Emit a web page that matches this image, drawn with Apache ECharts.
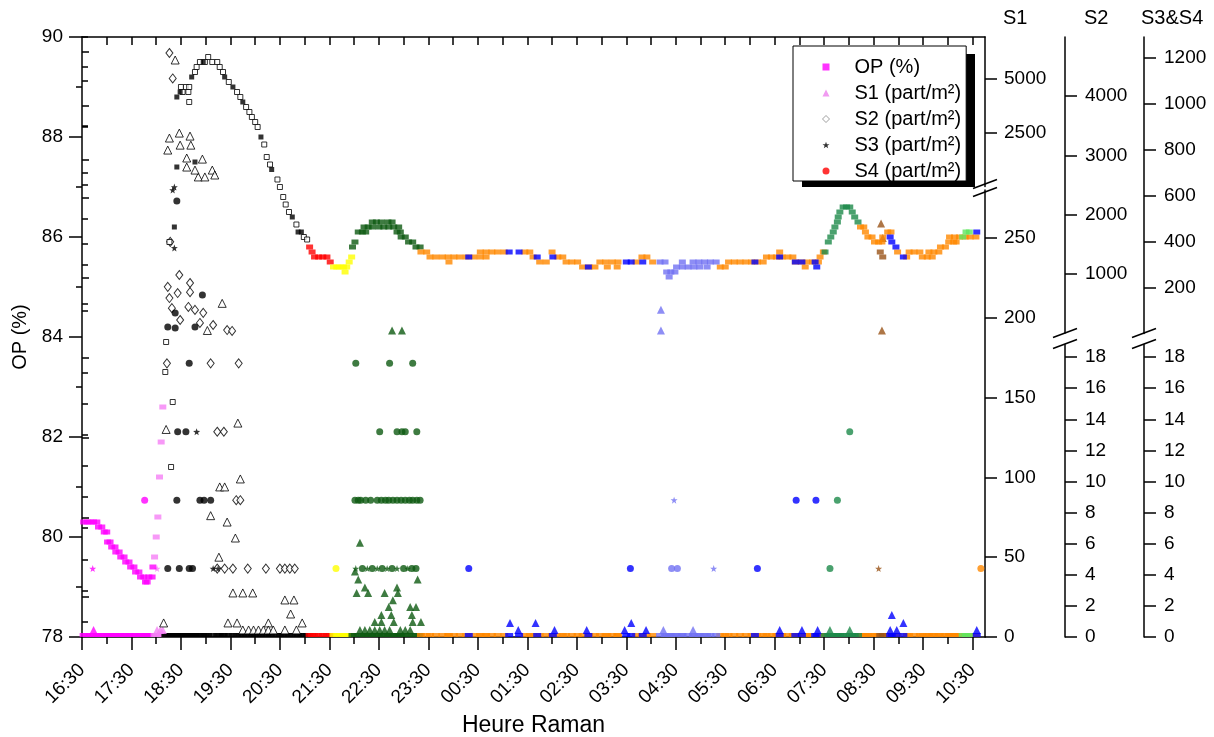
<!DOCTYPE html>
<html><head><meta charset="utf-8">
<script src="https://cdn.jsdelivr.net/npm/echarts@6/dist/echarts.min.js"></script>
<style>html,body{margin:0;padding:0;background:#fff}#c{width:1214px;height:737px}</style>
</head><body><div id="c"></div>
<script>
// ---------- tick labels ----------
const hourLabels = ['16:30','17:30','18:30','19:30','20:30','21:30','22:30','23:30','00:30','01:30','02:30','03:30','04:30','05:30','06:30','07:30','08:30','09:30','10:30'];
const opMajor = [78,80,82,84,86,88,90];
const opMinor = [79,81,83,85,87,89];
const s1LowerMajor = [0,50,100,150,200,250];
const s1LowerMinor = [25,75,125,175,225,275];
const s1UpperMajor = [2500,5000];
const s1UpperMinor = [1250,3750,6250];
const sLowerMajor = [0,2,4,6,8,10,12,14,16,18];
const sLowerMinor = [1,3,5,7,9,11,13,15,17];
const s2UpperMajor = [1000,2000,3000,4000];
const s2UpperMinor = [500,1500,2500,3500,4500,5000];
const s34UpperMajor = [200,400,600,800,1000,1200];
const s34UpperMinor = [100,300,500,700,900,1100,1290];

// ---------- data: [minutes after 16:30, value] ----------
const opMagenta = [[2,80.3],[6,80.3],[10,80.3],[14,80.3],[18,80.3],[20,80.2],[24,80.2],[27,80.1],[30,80.1],[31,79.9],[34,79.9],[36,79.8],[40,79.8],[41,79.7],[45,79.7],[47,79.6],[51,79.6],[53,79.5],[57,79.5],[59,79.4],[63,79.4],[65,79.3],[69,79.3],[71,79.2],[75,79.2],[77,79.1],[79,79.1],[81,79.2],[85,79.2],[86,79.4]];
const opPink = [[88,79.6],[90,80.0],[92,80.4],[94,81.2],[96,81.9],[98,82.6]];
const opBlack = [[101,83.3],[102,83.9],[106,85.9],[108,81.4],[110,82.7],[120,89.0],[122,88.9],[126,89.0],[129,88.9],[130,88.7],[130,89.0],[137,89.3],[139,89.4],[143,89.5],[149,89.5],[153,89.6],[158,89.5],[164,89.5],[167,89.4],[171,89.3],[178,89.1],[188,88.9],[192,88.8],[199,88.6],[203,88.5],[206,88.4],[210,88.3],[213,88.2],[221,87.85],[224,87.6],[228,87.45],[237,87.15],[240,87.0],[244,86.8],[247,86.65],[251,86.5],[260,86.25],[269,86.0],[273,85.95]];
const opBlackFilled = [[112,86.2],[115,87.4],[115,88.8],[119,88.9],[133,89.2],[137,87.5],[147,89.5],[173,89.2],[183,89.0],[195,88.7],[217,88.0],[230,87.35],[255,86.4],[262,86.1],[266,86.1]];
const opRed = [[276,85.8],[279,85.7],[282,85.6],[287,85.6],[292,85.6],[297,85.6],[301,85.5]];
const opYellow = [[305,85.4],[309,85.4],[313,85.4],[317,85.4],[319,85.3],[321,85.4],[324,85.5],[327,85.6]];
const opDarkGreen = [[328,85.8],[331,85.9],[335,86.1],[340,86.1],[344,86.1],[342,86.2],[347,86.2],[352,86.2],[352,86.3],[357,86.3],[363,86.3],[360,86.2],[366,86.2],[372,86.2],[378,86.2],[384,86.2],[371,86.3],[376,86.3],[382,86.1],[386,86.1],[387,86.0],[392,86.0],[396,85.9],[401,85.9],[405,85.8],[410,85.8]];
const opOrange = [[411,85.7],[418,85.7],[422,85.6],[429,85.6],[437,85.6],[444,85.6],[451,85.6],[458,85.6],[466,85.6],[445,85.5],[475,85.6],[483,85.6],[490,85.6],[483,85.7],[490,85.7],[497,85.7],[504,85.7],[512,85.7],[537,85.7],[543,85.7],[547,85.6],[555,85.5],[563,85.5],[570,85.7],[577,85.6],[583,85.6],[587,85.5],[594,85.5],[601,85.5],[607,85.4],[615,85.4],[622,85.4],[628,85.5],[635,85.5],[643,85.5],[650,85.5],[637,85.4],[649,85.4],[672,85.5],[679,85.6],[685,85.6],[692,85.5],
  [774,85.4],[780,85.4],[784,85.5],[791,85.5],[798,85.5],[805,85.5],[812,85.5],[819,85.5],[826,85.5],[830,85.6],[836,85.6],[842,85.6],[849,85.6],[856,85.6],[862,85.6],[846,85.7],[865,85.5],[872,85.5],[879,85.5],[886,85.5],[893,85.5],[877,85.4],[895,85.6],[899,85.7],
  [944,86.2],[948,86.2],[950,86.1],[953,86.0],[958,86.0],[961,85.9],[966,85.9],[970,85.9],[971,86.0],[977,86.1],[981,86.1],[989,85.7],[1000,85.6],[1003,85.7],[1009,85.7],[1016,85.7],[1019,85.6],[1025,85.6],[1031,85.6],[1027,85.7],[1033,85.7],[1039,85.7],[1041,85.8],[1047,85.8],[1051,85.9],[1057,85.9],[1060,85.9],[1052,86.0],[1058,86.0],[1064,86.0],[1071,86.0],[1077,86.0],[1084,86.0]];
const opLightBlue = [[701,85.5],[707,85.5],[709,85.3],[714,85.3],[719,85.3],[712,85.2],[721,85.4],[728,85.4],[735,85.4],[742,85.4],[749,85.4],[728,85.5],[741,85.5],[748,85.5],[755,85.5],[762,85.5],[769,85.5],[758,85.4]];
const opSeaGreen = [[901,85.7],[905,85.9],[908,86.0],[911,86.1],[913,86.2],[916,86.3],[917,86.4],[919,86.5],[923,86.6],[927,86.6],[931,86.6],[934,86.5],[937,86.4],[941,86.3]];
const opBrown = [[968,85.7],[971,85.6]];
const opLightGreen = [[1068,86.0],[1072,86.1],[1076,86.1]];
const opBlue = [[469,85.6],[518,85.7],[530,85.7],[552,85.6],[571,85.6],[614,85.4],[660,85.5],[666,85.5],[680,85.5],[816,85.5],[846,85.6],[865,85.5],[873,85.5],[889,85.5],[891,85.4],[980,86.0],[982,85.9],[987,85.8],[996,85.6],[1085,86.1]];

const s1Magenta = [[14,4.4]];
const s3Magenta = [[13,4.4]];
const s4Magenta = [[76,8.8]];
const s1Pink = [[91,4.4],[95,4.4],[98,4.4]];
const s3Pink = [[91,4.4]];
const s1Black = [[99,8.8],[166,50],[183,27.6],[195,27.6],[207,27.6],[246,23.2],[257,23.2],[253,14.4],[177,8.8],[188,8.8],[226,8.8],[267,8.8],
  [195,4.4],[202,4.4],[208,4.4],[214,4.4],[220,4.4],[226,4.4],[232,4.4],[246,4.4],[260,4.4],
  [156,76],[176,72],[186,62],[167,94],[173,94],[192,99],[189,134],[102,130],[170,209],[152,192],
  [113,5880],[106,2250],[118,2480],[131,2340],[104,1690],[119,1920],[132,1920],[127,1320],[146,1270],[127,900],[141,440],[149,440],[158,760],[161,530],[137,760]];
const s2Black = [[164,4.4],[173,4.4],[183,4.4],[201,4.4],[223,4.4],[240,4.4],[246,4.4],[252,4.4],[258,4.4],[187,8.8],[192,8.8],[164,13.2],[172,13.2],[103,17.6],[156,17.6],[190,17.6],
  [106,4730],[110,4300],[107,1540],[118,980],[104,780],[131,845],[131,690],[116,675],[106,590],[109,420],[129,440],[137,390],[147,340],[119,220],[143,170],[159,135],[176,50],[182,35]];
const s3Black = [[139,13.2],[159,4.4],[165,4.4],[112,637],[110,624],[112,372]];
const s4Black = [[104,4.4],[118,4.4],[130,4.4],[134,4.4],[115,8.8],[143,8.8],[148,8.8],[156,8.8],[116,13.2],[126,13.2],[130,17.6],
  [115,577],[113,89],[104,28],[113,24],[137,28],[146,167]];
const s4Yellow = [[308,4.4]];
const s1DarkGreen = [[376,192],[388,192],[337,59],[331,41],[335,36],[407,36],[343,31],[382,31],[333,27.5],[347,27.5],[367,27.5],[383,27.5],[377,23],[372,18.8],[398,18.8],[405,18.8],[363,13.8],[375,13.8],[400,13.8],[355,9.4],[363,9.4],[378,9.4],[401,9.4],[411,9.4],[337,4.4],[343,4.4],[349,4.4],[355,4.4],[361,4.4],[367,4.4],[373,4.4],[386,4.4],[392,4.4],[398,4.4]];
const s3DarkGreen = [[332,4.4],[346,4.4],[358,4.4],[370,4.4],[382,4.4],[395,4.4]];
const s4DarkGreen = [[332,17.6],[373,17.6],[401,17.6],[361,13.2],[382,13.2],[388,13.2],[392,13.2],[406,13.2],
  [331,8.8],[335,8.8],[338,8.8],[344,8.8],[350,8.8],[358,8.8],[363,8.8],[368,8.8],[372,8.8],[377,8.8],[382,8.8],[387,8.8],[392,8.8],[397,8.8],[401,8.8],[406,8.8],[410,8.8],
  [340,4.4],[352,4.4],[364,4.4],[376,4.4],[390,4.4],[400,4.4],[405,4.4]];
const s4Orange = [[1090,4.4]];
const s1LightBlue = [[702,205],[702,192],[705,4.4],[741,4.4]];
const s3LightBlue = [[718,8.8],[766,4.4]];
const s4LightBlue = [[715,4.4],[722,4.4]];
const s1SeaGreen = [[907,4.4],[931,4.4]];
const s4SeaGreen = [[916,8.8],[907,4.4],[931,13.2]];
const s1Brown = [[970,192],[969,259],[971,250]];
const s3Brown = [[966,4.4]];
const s1Blue = [[519,8.8],[529,4.4],[550,8.8],[573,4.4],[612,4.4],[658,4.4],[666,8.8],[684,4.4],[846,4.4],[873,4.4],[892,4.4],[980,4.4],[988,4.4],[982,13.8],[996,8.8],[1085,4.4]];
const s4Blue = [[469,4.4],[665,4.4],[819,4.4],[866,8.8],[890,8.8]];

// ---------- styling / layout ----------
const FONT = '"Liberation Sans", Arial, sans-serif';
const BLACK = {color:'#000', width:1.5};
const STAR = 'path://M0,-10L2.4,-3.3L9.5,-3.1L3.8,1.3L5.9,8.1L0,4L-5.9,8.1L-3.8,1.3L-9.5,-3.1L-2.4,-3.3Z';
const XMAX = 1095;
const plain = v => String(v);

const SEGMENTS = [
  {color:'#ff00ff', op:opMagenta, s1:s1Magenta, s3:s3Magenta, s4:s4Magenta},
  {color:'#f57ff5', op:opPink, s1:s1Pink, s3:s3Pink},
  {color:'#000000', op:opBlack, opFilled:opBlackFilled, s1:s1Black, s2:s2Black, s3:s3Black, s4:s4Black, hollow:true},
  {color:'#ff0000', op:opRed},
  {color:'#ffff00', op:opYellow, s4:s4Yellow},
  {color:'#0e5a12', op:opDarkGreen, s1:s1DarkGreen, s3:s3DarkGreen, s4:s4DarkGreen},
  {color:'#ff8800', op:opOrange, s4:s4Orange},
  {color:'#7272f2', op:opLightBlue, s1:s1LightBlue, s3:s3LightBlue, s4:s4LightBlue},
  {color:'#1d8a4a', op:opSeaGreen, s1:s1SeaGreen, s4:s4SeaGreen},
  {color:'#9a5418', op:opBrown, s1:s1Brown, s3:s3Brown},
  {color:'#5fe65f', op:opLightGreen},
  {color:'#0000ff', op:opBlue, s1:s1Blue, s4:s4Blue}
];

const grids = [
  {left:82, right:229, top:37, bottom:100},      // 0 main (OP)
  {left:82, right:229, top:190, bottom:100},     // 1 S1 lower
  {left:82, right:229, top:37, bottom:550.6},    // 2 S1 upper
  {left:82, right:229, top:344.7, bottom:100},   // 3 S2 lower
  {left:82, right:229, top:37, bottom:404},      // 4 S2 upper
  {left:82, right:229, top:344.7, bottom:100},   // 5 S3&S4 lower
  {left:82, right:229, top:37, bottom:403.5}     // 6 S3&S4 upper
].map(g => Object.assign({outerBoundsMode:'none', containLabel:false}, g));

const xMajor = hourLabels.map((_, i) => i * 60);
const xMinor = hourLabels.slice(1).map((_, i) => i * 60 + 30);
const xTop = hourLabels.slice(1).flatMap((_, i) => [i * 60 + 30, i * 60 + 60]);

const xAxes = [
  {type:'value', gridIndex:0, position:'bottom', min:0, max:XMAX,
   axisLine:{show:true, onZero:false, lineStyle:BLACK},
   axisTick:{show:true, length:13, customValues:xMajor, lineStyle:BLACK},
   axisLabel:{show:true, customValues:xMajor, rotate:45, margin:30, fontSize:19, fontFamily:FONT, color:'#000',
              formatter: v => hourLabels[Math.round(v / 60)] || ''},
   splitLine:{show:false},
   name:'Heure Raman', nameLocation:'middle', nameGap:76,
   nameTextStyle:{fontSize:23, fontFamily:FONT, color:'#000'}},
  {type:'value', gridIndex:0, position:'bottom', min:0, max:XMAX,
   axisLine:{show:false}, axisTick:{show:true, length:7, customValues:xMinor, lineStyle:BLACK},
   axisLabel:{show:false}, splitLine:{show:false}},
  {type:'value', gridIndex:0, position:'top', min:0, max:XMAX,
   axisLine:{show:true, onZero:false, lineStyle:BLACK}, axisTick:{show:true, inside:true, length:8, customValues:xTop, lineStyle:BLACK},
   axisLabel:{show:false}, splitLine:{show:false}}
];
for (let g = 1; g <= 6; g++) xAxes.push({type:'value', gridIndex:g, min:0, max:XMAX, show:false});

function tickAxes(gridIndex, position, min, max, major, minor, offset, majorLen, minorLen, margin, extra) {
  return [
    Object.assign({type:'value', gridIndex, position, offset, min, max,
     axisLine:{show:true, onZero:false, lineStyle:BLACK},
     axisTick:{show:true, length:majorLen, customValues:major, lineStyle:BLACK},
     axisLabel:{show:true, customValues:major, margin, fontSize:19, fontFamily:FONT, color:'#000', formatter:plain},
     splitLine:{show:false}}, extra || {}),
    {type:'value', gridIndex, position, offset, min, max,
     axisLine:{show:false},
     axisTick:{show:true, length:minorLen, customValues:minor, lineStyle:BLACK},
     axisLabel:{show:false}, splitLine:{show:false}}
  ];
}

const yAxes = [
  ...tickAxes(0, 'left', 78, 90, opMajor, opMinor, 0, 13, 6, 19,
     {name:'OP (%)', nameLocation:'middle', nameGap:48, nameTextStyle:{fontSize:20, fontFamily:FONT, color:'#000'}}), // 0,1
  ...tickAxes(1, 'right', 0, 280, s1LowerMajor, s1LowerMinor, 0, 12, 7, 19),      // 2,3
  ...tickAxes(2, 'right', 0, 6950, s1UpperMajor, s1UpperMinor, 0, 12, 7, 19),    // 4,5
  ...tickAxes(3, 'right', 0, 18.8, sLowerMajor, sLowerMinor, 80, 12, 6, 20),     // 6,7
  ...tickAxes(4, 'right', 0, 5000, s2UpperMajor, s2UpperMinor, 80, 12, 6, 20),   // 8,9
  ...tickAxes(5, 'right', 0, 18.8, sLowerMajor, sLowerMinor, 159, 12, 6, 20),    // 10,11
  ...tickAxes(6, 'right', 0, 1290, s34UpperMajor, s34UpperMinor, 159, 12, 6, 20) // 12,13
];

const AX = {op:[0,0], s1L:[3,2], s1U:[4,4], s2L:[5,6], s2U:[6,8], s3L:[7,10], s3U:[8,12]};
const series = [];
function add(name, data, ax, symbol, size, itemStyle, z, extra) {
  if (!data || !data.length) return;
  series.push(Object.assign({type:'scatter', name, data, xAxisIndex:ax[0], yAxisIndex:ax[1],
    symbol, symbolSize:size, itemStyle, z, silent:true, clip:false}, extra || {}));
}
const N = {op:'OP (%)', s1:'S1 (part/m²)', s2:'S2 (part/m²)', s3:'S3 (part/m²)', s4:'S4 (part/m²)'};

// zero baseline (all S = 0 at each measurement time)
SEGMENTS.forEach(seg => add('zero', seg.op.concat(seg.opFilled || []).map(p => [p[0], 0]), AX.s1L, 'rect', [8,4], {color:seg.color}, 1, {symbolOffset:[0,-2]}));

SEGMENTS.forEach(seg => {
  const c = seg.color;
  const fill = {color:c};
  const hollow = {color:'#fff', borderColor:c, borderWidth:1};
  const lo = (arr, lim) => (arr || []).filter(p => p[1] <= lim);
  const hi = (arr, lim) => (arr || []).filter(p => p[1] > lim);
  const tri = seg.hollow ? hollow : fill;
  add(N.s1, lo(seg.s1, 280), AX.s1L, 'triangle', 8, tri, 2);
  add(N.s1, hi(seg.s1, 280), AX.s1U, 'triangle', 8, tri, 2);
  add(N.s2, lo(seg.s2, 18.8), AX.s2L, 'diamond', [7,9], hollow, 2);
  add(N.s2, hi(seg.s2, 18.8), AX.s2U, 'diamond', [7,9], hollow, 2);
  add(N.s3, lo(seg.s3, 18.8), AX.s3L, STAR, 7, fill, 2);
  add(N.s3, hi(seg.s3, 18.8), AX.s3U, STAR, 7, fill, 2);
  add(N.s4, lo(seg.s4, 18.8), AX.s3L, 'circle', 7, fill, 2);
  add(N.s4, hi(seg.s4, 18.8), AX.s3U, 'circle', 7, fill, 2);
});
SEGMENTS.forEach(seg => {
  if (seg.hollow) {
    add(N.op, seg.op, AX.op, 'rect', 5, {color:'#fff', borderColor:'#000', borderWidth:1}, 3);
    add(N.op, seg.opFilled, AX.op, 'rect', 5, {color:'#000'}, 3);
  } else add(N.op, seg.op, AX.op, 'rect', [7,5], {color:seg.color}, 3);
});

function brk(x, y) {
  return {type:'line', shape:{x1:x - 12, y1:y + 4.5, x2:x + 12, y2:y - 4.5}, style:{stroke:'#000', lineWidth:1.5}, z:10};
}
const titleStyle = t => ({text:t, font:'20px "Liberation Sans", Arial, sans-serif', fill:'#000'});

const chart = echarts.init(document.getElementById('c'), null, {renderer:'canvas'});
chart.setOption({
  animation:false,
  backgroundColor:'#fff',
  textStyle:{fontFamily:FONT},
  grid:grids,
  xAxis:xAxes,
  yAxis:yAxes,
  legend:{
    left:793, top:46, orient:'vertical', selectedMode:false, z:8,
    backgroundColor:'#fff', borderColor:'#000', borderWidth:1,
    padding:[11,5,0,29], itemWidth:7, itemHeight:7, itemGap:6,
    textStyle:{fontSize:20, fontFamily:FONT, color:'#000', lineHeight:20, padding:[0,0,0,20]},
    data:[
      {name:N.op, icon:'rect', itemStyle:{color:'#ff00ff'}},
      {name:N.s1, icon:'triangle', itemStyle:{color:'#ee82ee'}},
      {name:N.s2, icon:'diamond', itemStyle:{color:'#fff', borderColor:'#888', borderWidth:1}},
      {name:N.s3, icon:STAR, itemStyle:{color:'#000'}},
      {name:N.s4, icon:'circle', itemStyle:{color:'#ff0000'}}
    ]
  },
  graphic:[
    {type:'rect', shape:{x:802, y:54, width:173, height:133}, style:{fill:'#000'}, z:7, silent:true},
    {type:'text', left:1003, top:8, style:titleStyle('S1')},
    {type:'text', left:1084, top:8, style:titleStyle('S2')},
    {type:'text', left:1141, top:8, style:titleStyle('S3&S4')},
    brk(985, 184), brk(985, 192),
    brk(1065, 333), brk(1065, 344),
    brk(1144, 333), brk(1144, 344)
  ],
  series
});
</script>
</body></html>
